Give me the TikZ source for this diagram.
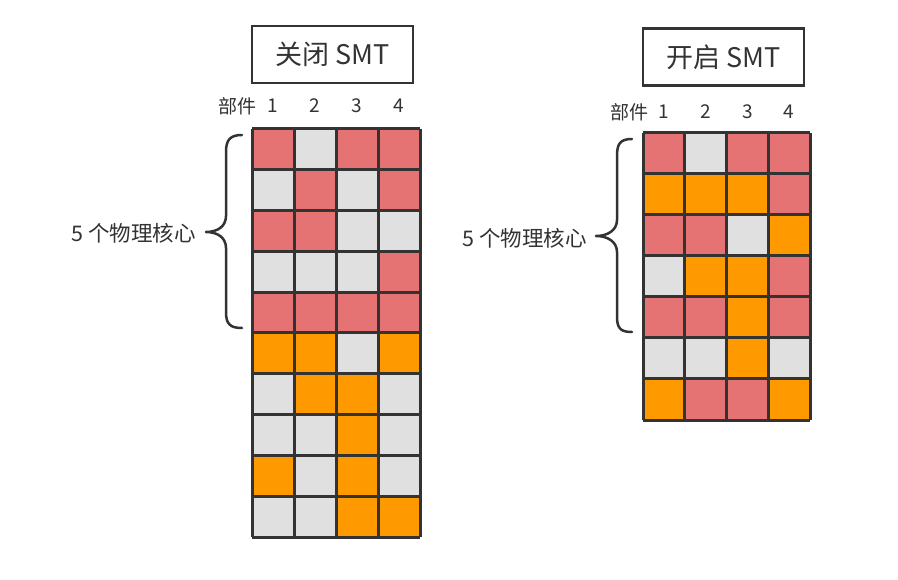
\documentclass[tikz,border=0pt]{standalone}
\usepackage{fontspec}
\setmainfont{Noto Sans CJK SC}
\definecolor{cr}{HTML}{E67373}
\definecolor{cg}{HTML}{E0E0E0}
\definecolor{co}{HTML}{FF9900}
\definecolor{ink}{HTML}{333333}
\tikzset{
  titlebox/.style={draw=ink,line width=2.5pt,minimum width=161pt,minimum height=57pt,inner sep=0pt,font=\fontsize{27}{27}\selectfont,text=ink},
  collabel/.style={font=\fontsize{19}{19}\selectfont,text=ink,inner sep=0pt},
  corelabel/.style={font=\fontsize{21.5}{21.5}\selectfont,text=ink,inner sep=0pt},
  gridline/.style={draw=ink,line width=3pt},
  bracepath/.style={draw=ink,line width=2.5pt,line cap=round,line join=round}
}
\begin{document}
\begin{tikzpicture}[x=1pt,y=-1pt]
\useasboundingbox[fill=white] (0,0) rectangle (898,580);
% ---------- left: SMT off ----------
\node[titlebox] (t1) at (332.5,54.5) {关闭 SMT};
\node[collabel] (p1) at (237,106) {部件};
\foreach \n/\x in {1/273,2/315,3/357,4/399}
  \node[collabel] (l\n) at (\x,106) {\n};
\foreach \row [count=\i] in {{cr,cg,cr,cr},{cg,cr,cg,cr},{cr,cr,cg,cg},{cg,cg,cg,cr},{cr,cr,cr,cr},
  {co,co,cg,co},{cg,co,co,cg},{cg,cg,co,cg},{co,cg,co,cg},{cg,cg,co,co}}{
  \foreach \c [count=\j] in \row {
    \fill[\c] ({252+42*(\j-1)},{129+40.8*(\i-1)}) rectangle ++(42,40.8);
  }
}
\foreach \j in {0,...,4} \draw[gridline] ({252+42*\j},129) -- ({252+42*\j},537);
\foreach \i in {0,...,10} \draw[gridline] (252,{129+40.8*\i}) -- (420,{129+40.8*\i});
\coordinate (b1t) at (242,135);
\coordinate (b1b) at (242,328);
\draw[bracepath] (b1t) .. controls (230,135) and (226,140) .. (226,152)
  -- (226,216) .. controls (226,226) and (218,232) .. (206,232)
  .. controls (218,232) and (226,238) .. (226,248)
  -- (226,312) .. controls (226,324) and (230,328) .. (b1b);
\node[corelabel,anchor=east] (c1) at (196,233) {5 个物理核心};
% ---------- right: SMT on ----------
\node[titlebox] (t2) at (723.5,57) {开启 SMT};
\node[collabel] (p2) at (629,112) {部件};
\foreach \n/\x in {1/664,2/706,3/748,4/789}
  \node[collabel] (r\n) at (\x,112) {\n};
\foreach \row [count=\i] in {{cr,cg,cr,cr},{co,co,co,cr},{cr,cr,cg,co},{cg,co,co,cr},{cr,cr,co,cr},
  {cg,cg,co,cg},{co,cr,cr,co}}{
  \foreach \c [count=\j] in \row {
    \fill[\c] ({643+41.75*(\j-1)},{133+41*(\i-1)}) rectangle ++(41.75,41);
  }
}
\foreach \j in {0,...,4} \draw[gridline] ({643+41.75*\j},133) -- ({643+41.75*\j},420);
\foreach \i in {0,...,7} \draw[gridline] (643,{133+41*\i}) -- (810,{133+41*\i});
\coordinate (b2t) at (632,139);
\coordinate (b2b) at (632,332);
\draw[bracepath] (b2t) .. controls (620,139) and (617,144) .. (617,156)
  -- (617,220) .. controls (617,230) and (608,236) .. (596,236)
  .. controls (608,236) and (617,242) .. (617,252)
  -- (617,316) .. controls (617,328) and (620,332) .. (b2b);
\node[corelabel,anchor=east] (c2) at (587,238) {5 个物理核心};
\end{tikzpicture}
\end{document}
